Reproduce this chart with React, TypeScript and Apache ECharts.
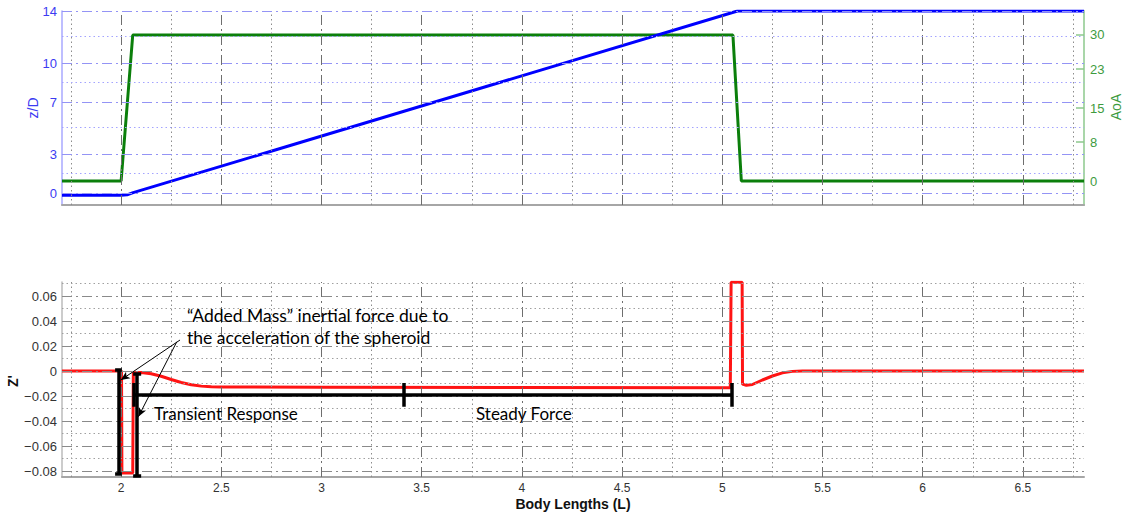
import React, { useEffect, useRef } from "react";
import * as echarts from "echarts";

// ---- axes ranges and ticks ----
const X_MIN = 1.705;
const X_MAX = 6.805;
const xTickValues = [2, 2.5, 3, 3.5, 4, 4.5, 5, 5.5, 6, 6.5];
const xMinorGrid = [1.75, 2.25, 2.75, 3.25, 3.75, 4.25, 4.75, 5.25, 5.75, 6.25, 6.75];

const ZD_MIN = -0.9;
const ZD_MAX = 14;
const zdTicks = [0, 3, 7, 10, 14];
const zdMinorGrid = [1.56, 5.06, 8.56, 12.06];

const AOA_MIN = -4.93;
const AOA_MAX = 34.93;
const aoaTicks = [0, 8, 15, 23, 30];

const ZP_MIN = -0.0848;
const ZP_MAX = 0.0712;
const zpTicks = [-0.08, -0.06, -0.04, -0.02, 0, 0.02, 0.04, 0.06];
const zpMinorGrid = [-0.07, -0.05, -0.03, -0.01, 0.01, 0.03, 0.05, 0.07];

// ---- series ----
const zdSeries = [
  [1.705, -0.15], [2.0, -0.15], [2.03, -0.12], [2.06, 0.05], [5.076, 14], [6.805, 14],
];
const aoaSeries = [
  [1.705, 0], [2.0, 0], [2.058, 30], [5.053, 30], [5.095, 0], [6.805, 0],
];
const zPrimeSeries = [
  [1.705, 0], [2.002, 0], [2.004, -0.0815], [2.058, -0.0815], [2.061, -0.0014],
  [2.1, -0.0012], [2.15, -0.0022], [2.2, -0.0042], [2.25, -0.0068], [2.3, -0.0092],
  [2.35, -0.011], [2.4, -0.0121], [2.45, -0.0126], [2.5, -0.0128], [3.0, -0.013],
  [4.0, -0.0132], [5.04, -0.0134], [5.044, 0.071], [5.099, 0.071], [5.101, -0.0105],
  [5.12, -0.0115], [5.15, -0.0108], [5.2, -0.0072], [5.25, -0.004], [5.3, -0.0015],
  [5.35, -0.0003], [5.4, 0], [6.805, 0],
];

// ---- annotations (data coordinates of the bottom plot) ----
const beams = [
  // I-beam 1
  [[1.9865, 0.0008], [1.9865, -0.0824]],
  [[1.970, 0.0008], [2.0035, 0.0008]],
  [[1.970, -0.0824], [2.0035, -0.0824]],
  // I-beam 2
  [[2.078, -0.0018], [2.078, -0.0838]],
  [[2.06, -0.0018], [2.10, -0.0018]],
  [[2.06, -0.0838], [2.10, -0.0838]],
  // transient / steady bar
  [[2.061, -0.0186], [5.047, -0.0186]],
  [[2.061, -0.0096], [2.061, -0.0286]],
  [[3.411, -0.0096], [3.411, -0.0286]],
  [[5.047, -0.0096], [5.047, -0.0286]],
];
const arrows = [
  [[2.294, 0.0248], [1.9985, -0.0072]],
  [[2.278, 0.0234], [2.086, -0.0366]],
];

const DASHDOT = [10, 4, 2, 4];
const DOTTED = [1.5, 3];

function vLines(vals: number[], color: string, type: any) {
  return vals.map((v) => ({ xAxis: v, lineStyle: { color, type, width: 1 } }));
}
function hLines(vals: number[], color: string, type: any) {
  return vals.map((v) => ({ yAxis: v, lineStyle: { color, type, width: 1 } }));
}

export default function App() {
  const ref = useRef<HTMLDivElement>(null);

  useEffect(() => {
    document.body.style.margin = "0";
    document.body.style.overflow = "hidden";
    const chart = echarts.init(ref.current!, null, { renderer: "svg" });

    const labelFont = "Liberation Sans, Arial, sans-serif";
    const annFont = "Lato, 'Open Sans', sans-serif";

    const option: any = {
      animation: false,
      backgroundColor: "#ffffff",
      grid: [
        { left: 62, top: 11, width: 1022, height: 194 },
        { left: 62, top: 282, width: 1022, height: 195 },
      ],
      xAxis: [
        {
          type: "value", gridIndex: 0, min: X_MIN, max: X_MAX,
          axisLine: { show: true, onZero: false, lineStyle: { color: "#a6a6a6", width: 2 } },
          axisTick: { show: true, inside: true, length: 5, customValues: xTickValues, lineStyle: { color: "#777" } },
          axisLabel: { show: false },
          splitLine: { show: false },
        },
        {
          type: "value", gridIndex: 1, min: X_MIN, max: X_MAX,
          axisLine: { show: true, onZero: false, lineStyle: { color: "#a6a6a6", width: 2 } },
          axisTick: { show: true, inside: true, length: 5, customValues: xTickValues, lineStyle: { color: "#777" } },
          axisLabel: {
            show: true, customValues: xTickValues, color: "#333", fontSize: 12,
            fontFamily: labelFont, margin: 5,
            formatter: (v: number) => String(v),
          },
          splitLine: { show: false },
        },
      ],
      yAxis: [
        {
          type: "value", gridIndex: 0, min: ZD_MIN, max: ZD_MAX, position: "left",
          axisLine: { show: true, onZero: false, lineStyle: { color: "#a8a8ff", width: 1.5 } },
          axisTick: { show: true, inside: true, length: 5, customValues: zdTicks, lineStyle: { color: "#a8a8ff" } },
          axisLabel: {
            show: true, customValues: zdTicks, color: "#3b3bf2", fontSize: 13,
            fontFamily: labelFont, margin: 5,
          },
          splitLine: { show: false },
        },
        {
          type: "value", gridIndex: 0, min: AOA_MIN, max: AOA_MAX, position: "right",
          axisLine: { show: true, onZero: false, lineStyle: { color: "#a9d6a9", width: 2 } },
          axisTick: { show: true, inside: true, length: 8, customValues: aoaTicks, lineStyle: { color: "#8cc98c", width: 1.5 } },
          axisLabel: {
            show: true, customValues: aoaTicks, color: "#3e9b3e", fontSize: 13,
            fontFamily: labelFont, margin: 6,
          },
          splitLine: { show: false },
        },
        {
          type: "value", gridIndex: 1, min: ZP_MIN, max: ZP_MAX, position: "left",
          axisLine: { show: true, onZero: false, lineStyle: { color: "#bbbbbb", width: 1.5 } },
          axisTick: { show: true, inside: true, length: 5, customValues: zpTicks, lineStyle: { color: "#777" } },
          axisLabel: {
            show: true, customValues: zpTicks, color: "#333", fontSize: 13,
            fontFamily: labelFont, margin: 5,
            formatter: (v: number) =>
              Math.abs(v) < 1e-9 ? "0" : (v < 0 ? "\u2212" : "") + Math.abs(v).toFixed(2),
          },
          splitLine: { show: false },
        },
      ],
      series: [
        // grid lines, top plot
        {
          type: "line", xAxisIndex: 0, yAxisIndex: 0, z: 1, silent: true,
          data: [[X_MIN, ZD_MIN]], symbol: "none", lineStyle: { opacity: 0 },
          markLine: {
            silent: true, symbol: ["none", "none"], label: { show: false },
            emphasis: { disabled: true },
            data: [
              ...vLines(xMinorGrid, "#8c8c8c", DOTTED),
              ...vLines(xTickValues, "#6e6e6e", DASHDOT),
              ...hLines(zdMinorGrid, "#a3a3ff", DOTTED),
              ...hLines(zdTicks, "#9494f5", DASHDOT),
            ],
          },
        },
        // grid lines, bottom plot
        {
          type: "line", xAxisIndex: 1, yAxisIndex: 2, z: 1, silent: true,
          data: [[X_MIN, ZP_MIN]], symbol: "none", lineStyle: { opacity: 0 },
          markLine: {
            silent: true, symbol: ["none", "none"], label: { show: false },
            emphasis: { disabled: true },
            data: [
              ...vLines(xMinorGrid, "#8c8c8c", DOTTED),
              ...vLines(xTickValues, "#6e6e6e", DASHDOT),
              ...hLines(zpMinorGrid, "#a0a0a0", DOTTED),
              ...hLines(zpTicks, "#8a8a8a", DASHDOT),
            ],
          },
        },
        {
          name: "AoA", type: "line", xAxisIndex: 0, yAxisIndex: 1, z: 3,
          data: aoaSeries, symbol: "none",
          lineStyle: { color: "#0b7f0b", width: 3 },
        },
        {
          name: "z/D", type: "line", xAxisIndex: 0, yAxisIndex: 0, z: 4,
          data: zdSeries, symbol: "none",
          lineStyle: { color: "#0000ff", width: 3 },
        },
        {
          name: "Z'", type: "line", xAxisIndex: 1, yAxisIndex: 2, z: 3,
          data: zPrimeSeries, symbol: "none",
          lineStyle: { color: "#ff1414", width: 3 },
        },
        // annotations
        {
          type: "line", xAxisIndex: 1, yAxisIndex: 2, z: 5, silent: true,
          data: [[X_MIN, ZP_MIN]], symbol: "none", lineStyle: { opacity: 0 },
          markLine: {
            silent: true, label: { show: false }, emphasis: { disabled: true },
            animation: false,
            data: [
              ...beams.map((b) => [
                { coord: b[0], symbol: "none", lineStyle: { color: "#000", width: 3.5, type: "solid" } },
                { coord: b[1], symbol: "none" },
              ]),
              ...arrows.map((a) => [
                { coord: a[0], symbol: "none", lineStyle: { color: "#000", width: 1, type: "solid" } },
                { coord: a[1], symbol: "arrow", symbolSize: [6, 9] },
              ]),
            ],
          },
        },
      ],
      graphic: [
        {
          type: "text", x: 33, y: 108, rotation: Math.PI / 2,
          style: { text: "z/D", fill: "#3b3bf2", font: `14px ${labelFont}`, textAlign: "center", textVerticalAlign: "middle" },
        },
        {
          type: "text", x: 1116, y: 107, rotation: Math.PI / 2,
          style: { text: "AoA", fill: "#3e9b3e", font: `14px ${labelFont}`, textAlign: "center", textVerticalAlign: "middle" },
        },
        {
          type: "text", x: 13, y: 381, rotation: Math.PI / 2,
          style: { text: "Z'", fill: "#111", font: `bold 14px ${labelFont}`, textAlign: "center", textVerticalAlign: "middle" },
        },
        {
          type: "text", x: 573, y: 504,
          style: { text: "Body Lengths (L)", fill: "#111", font: `bold 14px ${labelFont}`, textAlign: "center", textVerticalAlign: "middle" },
        },
        {
          type: "text", x: 187, y: 315, z: 10,
          style: { text: "\u201CAdded Mass\u201D inertial force due to", fill: "#000", font: `17.5px ${annFont}`, textAlign: "left", textVerticalAlign: "middle" },
        },
        {
          type: "text", x: 187, y: 337, z: 10,
          style: { text: "the acceleration of the spheroid", fill: "#000", font: `17.5px ${annFont}`, textAlign: "left", textVerticalAlign: "middle" },
        },
        {
          type: "text", x: 154, y: 413, z: 10,
          style: { text: "Transient Response", fill: "#000", font: `17px ${annFont}`, textAlign: "left", textVerticalAlign: "middle" },
        },
        {
          type: "text", x: 476, y: 413, z: 10,
          style: { text: "Steady Force", fill: "#000", font: `17px ${annFont}`, textAlign: "left", textVerticalAlign: "middle" },
        },
      ],
    };

    chart.setOption(option);
    return () => chart.dispose();
  }, []);

  return <div ref={ref} style={{ width: 1123, height: 514 }} />;
}
